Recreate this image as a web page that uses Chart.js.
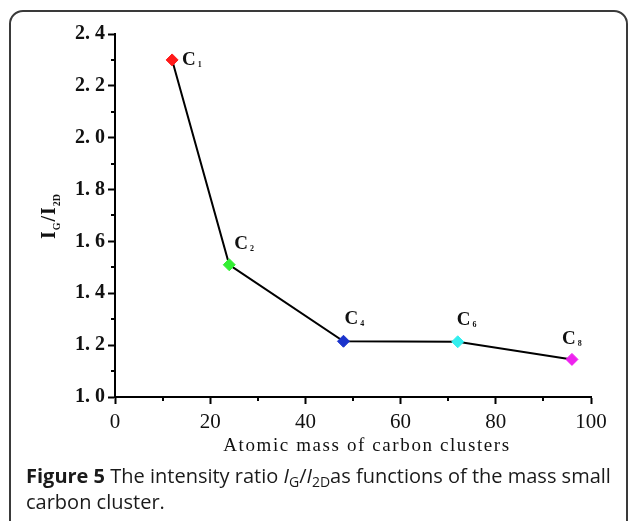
<!DOCTYPE html>
<html>
<head>
<meta charset="utf-8">
<script src="https://cdn.jsdelivr.net/npm/chart.js@4/dist/chart.umd.min.js"></script>
<style>
  html, body { margin: 0; padding: 0; background: #fff; width: 629px; height: 521px; overflow: hidden; }
  #frame {
    position: absolute; left: 9px; top: 10px; width: 619px; height: 540px;
    border: 2px solid #3a3a3a; border-radius: 14px; box-sizing: border-box;
  }
  #wrap { position: absolute; left: 0; top: 0; width: 629px; height: 521px; }
  #caption {
    position: absolute; left: 26px; top: 463px; width: 600px;
    font-family: "Open Sans", sans-serif; font-size: 20px; line-height: 26px; color: #1a1a1a;
  }
  #caption b { font-weight: 700; }
  #caption sub { font-size: 14px; vertical-align: -4px; line-height: 0; }
</style>
</head>
<body>
<div id="frame"></div>
<div id="wrap"><canvas id="myChart" width="629" height="521"></canvas></div>
<div id="caption"><b>Figure 5</b> The intensity ratio <i>I</i><sub>G</sub>/<i>I</i><sub>2D</sub>as functions of the mass small carbon cluster.</div>
<script>
// data
const masses = [12, 24, 48, 72, 96];
const ratios = [2.30, 1.51, 1.215, 1.213, 1.145];
const clusterSubs = ['1', '2', '4', '6', '8'];
const pointColors = ['#ff1a1a', '#33ee33', '#1a33cc', '#33eeee', '#ee22ee'];
const xTicks = [0, 20, 40, 60, 80, 100];
const yTicks = [1.0, 1.2, 1.4, 1.6, 1.8, 2.0, 2.2, 2.4];

// where each "C" label sits relative to its point
const labelOffsets = [[10, 0], [5, -21], [1, -22], [-1, -22], [-10, -20]];

const serif = '"Liberation Serif", "DejaVu Serif", serif';

// minor tick marks halfway between the major ones
const minorTicks = {
    id: 'minorTicks',
    afterDraw(chart) {
        const ctx = chart.ctx;
        const x = chart.scales.x, y = chart.scales.y;
        ctx.save();
        ctx.strokeStyle = '#000';
        ctx.lineWidth = 2;
        ctx.beginPath();
        for (let i = 0; i < xTicks.length - 1; i++) {
            const px = Math.round(x.getPixelForValue((xTicks[i] + xTicks[i + 1]) / 2));
            ctx.moveTo(px, y.bottom);
            ctx.lineTo(px, y.bottom + 4);
        }
        for (let i = 0; i < yTicks.length - 1; i++) {
            const py = Math.round(y.getPixelForValue((yTicks[i] + yTicks[i + 1]) / 2));
            ctx.moveTo(x.left, py);
            ctx.lineTo(x.left - 4, py);
        }
        ctx.stroke();
        ctx.restore();
    }
};

// axis titles, with subscripts on the y one
const axisTitles = {
    id: 'axisTitles',
    afterDraw(chart) {
        const ctx = chart.ctx;
        const area = chart.chartArea;
        ctx.save();
        ctx.fillStyle = '#111';
        ctx.textBaseline = 'alphabetic';

        ctx.font = '19px ' + serif;
        ctx.letterSpacing = '1.6px';
        ctx.textAlign = 'center';
        ctx.fillText('Atomic mass of carbon clusters', (area.left + area.right) / 2 + 14, 451);
        ctx.letterSpacing = '0px';

        const parts = [
            ['I', 'bold 20px ', 0], ['G', 'bold 10px ', 5], ['/', 'bold 20px ', 0],
            ['I', 'bold 20px ', 0], ['2D', 'bold 10px ', 5]
        ];
        let total = 0;
        parts.forEach(p => { ctx.font = p[1] + serif; total += ctx.measureText(p[0]).width + 1; });
        ctx.translate(55, 216);
        ctx.rotate(-Math.PI / 2);
        ctx.textAlign = 'left';
        let cx = -total / 2;
        parts.forEach(p => {
            ctx.font = p[1] + serif;
            ctx.fillText(p[0], cx, p[2]);
            cx += ctx.measureText(p[0]).width + 1;
        });
        ctx.restore();
    }
};

// C_n labels next to each point
const pointLabels = {
    id: 'pointLabels',
    afterDatasetsDraw(chart) {
        const ctx = chart.ctx;
        const meta = chart.getDatasetMeta(0);
        ctx.save();
        ctx.fillStyle = '#111';
        ctx.textAlign = 'left';
        ctx.textBaseline = 'middle';
        meta.data.forEach((pt, i) => {
            const lx = pt.x + labelOffsets[i][0];
            const ly = pt.y + labelOffsets[i][1];
            ctx.font = 'bold 19px ' + serif;
            ctx.fillText('C', lx, ly);
            const w = ctx.measureText('C').width;
            ctx.font = 'bold 8px ' + serif;
            ctx.fillText(clusterSubs[i], lx + w + 2, ly + 5);
        });
        ctx.restore();
    }
};

const ctx1 = document.getElementById('myChart');

const myChart = new Chart(ctx1, {
    type: 'line',
    data: {
        datasets: [{
            data: masses.map((m, i) => ({ x: m, y: ratios[i] })),
            borderColor: '#000',
            borderWidth: 2,
            pointStyle: 'rectRot',
            pointRadius: 6,
            pointBackgroundColor: pointColors,
            pointBorderColor: pointColors,
            pointBorderWidth: 1,
            tension: 0
        }]
    },
    options: {
        responsive: false,
        animation: false,
        layout: { padding: { left: 0, right: 38, top: 34, bottom: 0 } },
        plugins: {
            legend: { display: false },
            tooltip: { enabled: false }
        },
        scales: {
            x: {
                type: 'linear',
                min: 0,
                max: 100,
                afterBuildTicks: (s) => { s.ticks = xTicks.map(v => ({ value: v })); },
                afterFit: (s) => { s.height = 124; },
                grid: { drawOnChartArea: false, tickLength: 7, tickWidth: 2, color: '#000' },
                border: { color: '#000', width: 2 },
                ticks: {
                    color: '#111',
                    padding: 6,
                    font: { family: serif, size: 21 },
                    maxRotation: 0
                }
            },
            y: {
                type: 'linear',
                min: 1.0,
                max: 2.4,
                afterBuildTicks: (s) => { s.ticks = yTicks.map(v => ({ value: v })); },
                afterFit: (s) => { s.width = 115; },
                grid: { drawOnChartArea: false, tickLength: 7, tickWidth: 2, color: '#000' },
                border: { color: '#000', width: 2 },
                ticks: {
                    color: '#111',
                    padding: 3,
                    font: { family: serif, size: 20, weight: 'bold' },
                    callback: (v) => Number(v).toFixed(1).replace('.', '. ')
                }
            }
        }
    },
    plugins: [minorTicks, axisTitles, pointLabels]
});
</script>
</body>
</html>
